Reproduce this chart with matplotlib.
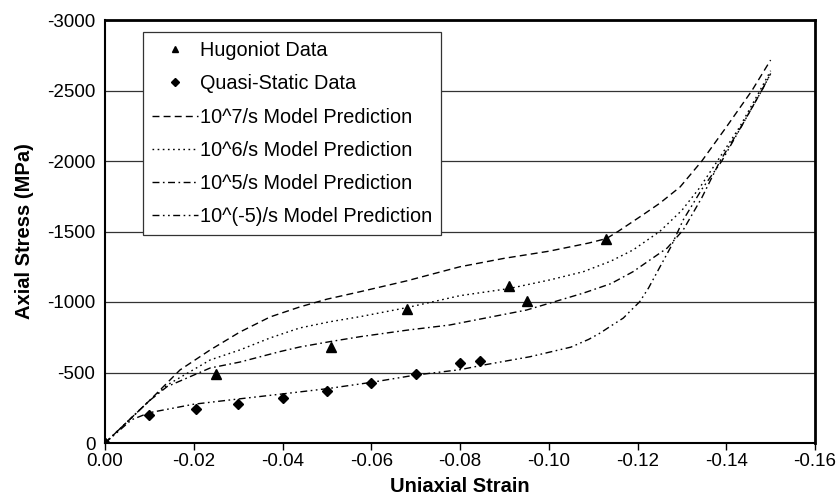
import matplotlib
import numpy as np

matplotlib.use("Agg")
import matplotlib.pyplot as plt
from matplotlib.lines import Line2D

plt.rcParams["font.family"] = ["Liberation Sans", "DejaVu Sans"]

# measured points (strain, stress MPa), compressive = negative
hug_strain = [0.0, -0.025, -0.051, -0.068, -0.091, -0.095, -0.113]
hug_stress = [0, -490, -680, -950, -1110, -1010, -1450]

qs_strain = [0.0, -0.010, -0.0205, -0.030, -0.040, -0.050, -0.060, -0.070, -0.080, -0.0845]
qs_stress = [0, -200, -241, -277, -319, -369, -426, -490, -567, -582]

# model predictions
m7_strain = [0.0, -0.010, -0.0169, -0.0237, -0.0304, -0.0372, -0.0439, -0.050, -0.0575, -0.068,
             -0.080, -0.090, -0.100, -0.109, -0.113, -0.1156, -0.1213, -0.125, -0.1296,
             -0.1345, -0.140, -0.1458, -0.150]
m7_stress = [0, -300, -518, -660, -787, -894, -965, -1020, -1073, -1150,
             -1250, -1310, -1360, -1418, -1450, -1500, -1620, -1700, -1816,
             -2000, -2240, -2500, -2716]

m6_strain = [0.0, -0.010, -0.014, -0.0237, -0.0304, -0.0372, -0.0439, -0.0507, -0.0575, -0.068,
             -0.080, -0.091, -0.1003, -0.1078, -0.114, -0.119, -0.125, -0.130, -0.134,
             -0.138, -0.143, -0.1476, -0.150]
m6_stress = [0, -300, -411, -589, -660, -745, -816, -860, -896, -960,
             -1045, -1095, -1157, -1215, -1290, -1369, -1500, -1650, -1810,
             -2000, -2240, -2500, -2640]

m5_strain = [0.0, -0.010, -0.014, -0.0237, -0.0304, -0.0394, -0.0439, -0.0507, -0.0575, -0.068,
             -0.0777, -0.095, -0.1078, -0.114, -0.119, -0.1267, -0.1303, -0.1345, -0.1386,
             -0.1435, -0.148, -0.150]
m5_stress = [0, -300, -400, -532, -574, -648, -681, -719, -754, -800,
             -837, -943, -1063, -1130, -1215, -1383, -1511, -1740, -2000,
             -2250, -2500, -2620]

m_5_strain = [0.0, -0.006, -0.010, -0.020, -0.030, -0.040, -0.050, -0.060, -0.070, -0.080,
              -0.0853, -0.0958, -0.105, -0.109, -0.1116, -0.114, -0.1168, -0.1185, -0.1205,
              -0.1225, -0.1243, -0.1275, -0.1303, -0.1345, -0.139, -0.1435, -0.148, -0.150]
m_5_stress = [0, -165, -215, -275, -312, -348, -385, -430, -482, -520,
              -553, -612, -680, -735, -780, -830, -886, -940, -1002,
              -1100, -1205, -1390, -1582, -1800, -2000, -2250, -2500, -2620]

legend_labels = ["Hugoniot Data", "Quasi-Static Data", "10^7/s Model Prediction",
                 "10^6/s Model Prediction", "10^5/s Model Prediction",
                 "10^(-5)/s Model Prediction"]

fig = plt.figure(figsize=(8.39, 5.03), dpi=100)
ax = fig.add_axes([105 / 839, 1 - 443 / 503, 710 / 839, 423 / 503])

lw = 1.0
ax.plot(m7_strain, m7_stress, color="black", lw=lw, dashes=(5, 3))
ax.plot(m6_strain, m6_stress, color="black", lw=lw, dashes=(1.2, 2.5))
ax.plot(m5_strain, m5_stress, color="black", lw=lw, dashes=(5, 2.5, 1.2, 2.5))
ax.plot(m_5_strain, m_5_stress, color="black", lw=lw, dashes=(5, 2.5, 1.2, 2.5, 1.2, 2.5))
ax.plot(hug_strain, hug_stress, ls="none", marker="^", ms=6.5, color="black")
ax.plot(qs_strain, qs_stress, ls="none", marker="D", ms=5.5, color="black")

ax.set_xlim(0, -0.16)
ax.set_ylim(0, -3000)
xt = np.arange(0, -0.161, -0.02)
ax.set_xticks(xt)
ax.set_xticklabels(["0.00"] + [f"{v:.2f}" for v in xt[1:]])
ax.set_yticks(np.arange(0, -3001, -500))
ax.set_yticklabels(["0"] + [str(v) for v in range(-500, -3001, -500)])
ax.yaxis.grid(True, color="#333333", lw=0.9)
ax.set_axisbelow(True)
ax.tick_params(axis="x", direction="out", length=5, width=1, labelsize=13.5, pad=2)
ax.tick_params(axis="y", length=0, labelsize=13.5, pad=7)
for side in ["left", "bottom"]:
    ax.spines[side].set_linewidth(1.5)
for side in ["top", "right"]:
    ax.spines[side].set_linewidth(2)

ax.set_xlabel("Uniaxial Strain", fontsize=14.5, fontweight="bold", labelpad=5)
ax.set_ylabel("Axial Stress (MPa)", fontsize=14.5, fontweight="bold", labelpad=9)

handles = [
    Line2D([], [], ls="none", marker="^", ms=5, color="black"),
    Line2D([], [], ls="none", marker="D", ms=4, color="black"),
    Line2D([], [], color="black", lw=lw, dashes=(5, 3)),
    Line2D([], [], color="black", lw=lw, dashes=(1.2, 2.5)),
    Line2D([], [], color="black", lw=lw, dashes=(5, 2.5, 1.2, 2.5)),
    Line2D([], [], color="black", lw=lw, dashes=(5, 2.5, 1.2, 2.5, 1.2, 2.5)),
]
leg = ax.legend(handles, legend_labels, loc="upper left", bbox_to_anchor=(38 / 710, 1 - 12 / 423),
                fontsize=14.3, frameon=True, fancybox=False, borderpad=0.45,
                labelspacing=0.72, handlelength=2.3, handletextpad=0.12, borderaxespad=0)
leg.get_frame().set_edgecolor("#333333")
leg.get_frame().set_linewidth(0.9)
leg.get_frame().set_alpha(1)

fig.savefig("out.png", dpi=100)
